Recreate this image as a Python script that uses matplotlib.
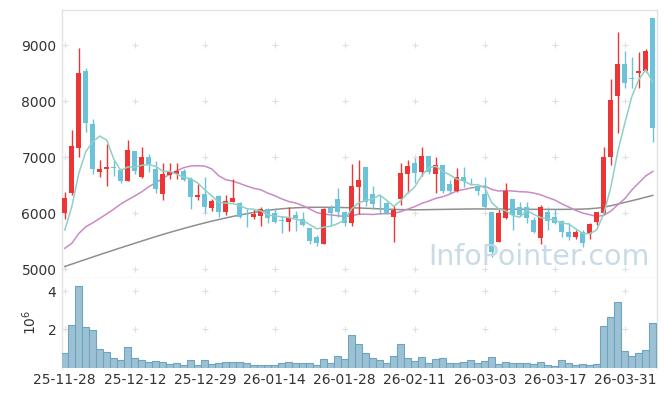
import matplotlib
matplotlib.use("Agg")
import matplotlib.pyplot as plt
import numpy as np

opens = [6000, 6360, 7170, 8540, 7600, 6740, 6800, 6830, 6780, 6580,
         7110, 6640, 7000, 6785, 6340, 6690, 6700, 6750, 6610, 6290,
         6345, 6095, 6310, 6030, 6200, 6180, 5960, 5940, 5960, 6075,
         6010, 5870, 5850, 5970, 5895, 5735, 5580, 5460, 6100, 6250,
         6015, 5830, 6475, 6830, 6345, 6190, 6185, 5940, 6260, 6700,
         6890, 6745, 7020, 6700, 6860, 6520, 6405, 6645, 6545, 6495,
         6340, 6020, 5495, 5910, 6250, 6105, 6120, 5880, 5560, 6030,
         5930, 5870, 5660, 5585, 5660, 5625, 5850, 6000, 7010, 8100,
         8665, 8410, 8500, 8545, 9480]
highs = [6380, 7485, 8950, 8600, 7680, 6960, 7230, 6950, 6810, 7310,
         7115, 7180, 7060, 6930, 6890, 6890, 6890, 6800, 6655, 6520,
         6655, 6260, 6330, 6330, 6610, 6200, 6070, 6070, 6105, 6090,
         6090, 5960, 6120, 6045, 6030, 5745, 5615, 6090, 6150, 6460,
         6030, 6880, 6950, 6835, 6480, 6330, 6210, 6130, 6890, 6945,
         6990, 7190, 7025, 7010, 6865, 6595, 6805, 6820, 6625, 6505,
         6655, 6025, 6090, 6545, 6255, 6205, 6205, 5940, 6150, 6120,
         6070, 5880, 5820, 5700, 5700, 5835, 6030, 7190, 8390, 9240,
         8905, 8785, 8885, 8925, 9485]
lows = [5895, 6330, 7000, 7450, 6710, 6640, 6480, 6660, 6540, 6570,
        6700, 6625, 6740, 6360, 6230, 6610, 6610, 6580, 6070, 6240,
        6000, 6040, 5940, 5970, 6200, 5910, 5750, 5895, 5780, 5820,
        5830, 5645, 5690, 5690, 5780, 5450, 5420, 5455, 5780, 5940,
        5775, 5780, 5985, 6130, 6075, 5990, 5990, 5495, 6150, 6370,
        6550, 6670, 6700, 6360, 6360, 6360, 6385, 6475, 6505, 6330,
        6090, 5225, 5490, 5905, 5700, 5960, 5820, 5650, 5445, 5700,
        5810, 5575, 5525, 5540, 5405, 5545, 5800, 5990, 6865, 7430,
        8230, 8230, 8245, 8530, 7270]
closes = [6280, 7200, 8510, 7610, 6790, 6790, 6830, 6815, 6580, 7130,
          6760, 7000, 6875, 6430, 6700, 6735, 6750, 6595, 6300, 6325,
          6120, 6220, 6030, 6220, 6275, 5940, 5945, 5980, 6075, 5920,
          5850, 5860, 5920, 5915, 5790, 5510, 5475, 6075, 6000, 6025,
          5835, 6485, 6595, 6205, 6170, 6180, 6005, 6060, 6725, 6845,
          6725, 7020, 6745, 6860, 6400, 6400, 6645, 6580, 6535, 6400,
          6120, 5315, 6000, 6400, 5970, 5970, 5910, 5660, 6105, 5870,
          5835, 5660, 5580, 5665, 5465, 5805, 6020, 7010, 8020, 8660,
          8320, 8400, 8545, 8900, 7530]
volume_m = [0.75, 2.21, 4.26, 2.10, 1.95, 0.95, 0.80, 0.48, 0.38, 1.06,
            0.48, 0.38, 0.28, 0.33, 0.28, 0.17, 0.22, 0.12, 0.38, 0.12,
            0.38, 0.17, 0.22, 0.28, 0.28, 0.28, 0.22, 0.12, 0.12, 0.12,
            0.12, 0.22, 0.28, 0.22, 0.22, 0.22, 0.12, 0.43, 0.22, 0.59,
            0.43, 1.69, 1.22, 0.75, 0.48, 0.38, 0.22, 0.59, 1.22, 0.48,
            0.33, 0.54, 0.22, 0.43, 0.48, 0.22, 0.22, 0.28, 0.38, 0.22,
            0.33, 0.54, 0.17, 0.28, 0.22, 0.22, 0.22, 0.17, 0.28, 0.12,
            0.07, 0.38, 0.22, 0.12, 0.17, 0.12, 0.17, 2.16, 2.63, 3.41,
            0.85, 0.59, 0.75, 0.90, 2.31]
ma5 = [5702, 6118, 6714, 7100, 7278, 7380, 7306, 6967, 6761, 6829,
       6823, 6857, 6869, 6839, 6753, 6748, 6698, 6642, 6616, 6541,
       6418, 6312, 6199, 6183, 6173, 6137, 6082, 6072, 6043, 5972,
       5954, 5937, 5925, 5893, 5867, 5799, 5722, 5753, 5770, 5817,
       5882, 6084, 6188, 6229, 6258, 6327, 6231, 6124, 6228, 6363,
       6472, 6675, 6812, 6839, 6750, 6685, 6610, 6577, 6512, 6512,
       6456, 6190, 6074, 6047, 5961, 5931, 6050, 5982, 5923, 5903,
       5876, 5826, 5810, 5722, 5641, 5635, 5707, 5993, 6464, 7103,
       7606, 8082, 8389, 8565, 8339]
ma20 = [5375, 5465, 5640, 5760, 5830, 5910, 5990, 6075, 6165, 6240,
        6310, 6385, 6475, 6545, 6625, 6700, 6760, 6815, 6845, 6850,
        6842, 6793, 6669, 6600, 6574, 6532, 6487, 6446, 6420, 6360,
        6314, 6257, 6210, 6184, 6138, 6077, 6013, 5987, 5972, 5957,
        5943, 5956, 5985, 5984, 5979, 5991, 5994, 5998, 6030, 6076,
        6120, 6178, 6219, 6267, 6297, 6342, 6400, 6425, 6452, 6471,
        6485, 6427, 6397, 6407, 6397, 6386, 6381, 6361, 6330, 6282,
        6237, 6169, 6111, 6051, 6004, 5975, 5943, 5965, 6039, 6152,
        6262, 6416, 6544, 6669, 6747]
ma60 = [5050, 5093, 5136, 5178, 5220, 5262, 5303, 5344, 5385, 5425,
        5465, 5505, 5545, 5584, 5622, 5659, 5695, 5730, 5764, 5797,
        5829, 5860, 5889, 5917, 5944, 5969, 5993, 6015, 6035, 6053,
        6068, 6081, 6091, 6099, 6104, 6107, 6108, 6108, 6107, 6105,
        6102, 6099, 6095, 6090, 6085, 6080, 6075, 6070, 6066, 6064,
        6063, 6064, 6066, 6068, 6070, 6072, 6074, 6076, 6077, 6078,
        6078, 6077, 6076, 6075, 6074, 6073, 6072, 6071, 6071, 6070,
        6070, 6070, 6071, 6073, 6076, 6082, 6092, 6110, 6135, 6165,
        6195, 6225, 6255, 6288, 6320]
tick_labels = ["25-11-28", "25-12-12", "25-12-29", "26-01-14", "26-01-28",
               "26-02-11", "26-03-03", "26-03-17", "26-03-31"]
price_ticks = [5000, 6000, 7000, 8000, 9000]
vol_ticks = [2, 4]

UP = "#EE3535"
DOWN = "#6CC3D9"

fig = plt.figure(figsize=(6.65, 3.96), dpi=100)
ax = fig.add_axes([62/665, 1-278/396, (657-62)/665, (278-10)/396])
ax2 = fig.add_axes([62/665, 1-367.6/396, (657-62)/665, (367.6-278)/396], sharex=ax)

x = np.arange(len(closes))
o = np.array(opens, float); c = np.array(closes, float)
h = np.array(highs, float); l = np.array(lows, float)
up = c >= o
cols = np.where(up, UP, DOWN)

ax.vlines(x, l, h, colors=cols, linewidth=1.0, zorder=3)
bottoms = np.minimum(o, c)
heights = np.maximum(np.abs(c - o), 12)
ax.bar(x, heights, bottom=bottoms, width=0.72, color=cols, linewidth=0, zorder=4)

ax.plot(x, ma60, color="#8f8f8f", linewidth=1.1, zorder=2)
ax.plot(x, ma20, color="#c98bc4", linewidth=1.1, zorder=2)
ax.plot(x, ma5, color="#8fd0c5", linewidth=1.1, zorder=5)

ax2.bar(x, volume_m, width=1.0, color="#9cc1d3", edgecolor="#6fa3c2", linewidth=0.8, zorder=3)

xt = list(range(0, 85, 10))[:len(tick_labels)]
ax.set_xlim(-0.4, 84.6)
ax.set_ylim(4845, 9630)
ax2.set_ylim(0, 4.68)

ax.set_yticks(price_ticks)
ax.set_yticklabels([str(v) for v in price_ticks])
ax2.set_yticks(vol_ticks)
ax2.set_yticklabels([str(v) for v in vol_ticks])
ax2.set_xticks(xt)
ax2.set_xticklabels(tick_labels)
ax.tick_params(axis="x", labelbottom=False)

for a in (ax, ax2):
    a.tick_params(length=0, labelsize=10, labelcolor="#333333", pad=4)
    for s in a.spines.values():
        s.set_color("#e3e3e3")
        s.set_linewidth(1.0)
ax2.spines["bottom"].set_visible(False)
ax2.spines["top"].set_visible(False)

# grid crosses at tick intersections
gx, gy = np.meshgrid(xt, price_ticks)
ax.scatter(gx.ravel(), gy.ravel(), marker="+", s=16, color="#e0e0e0", linewidths=0.8, zorder=1)
gx2, gy2 = np.meshgrid(xt, vol_ticks)
ax2.scatter(gx2.ravel(), gy2.ravel(), marker="+", s=16, color="#e0e0e0", linewidths=0.8, zorder=1)

ax2.set_ylabel("$10^6$", fontsize=10, color="#333333", labelpad=6)

fig.text(539/665, 1-257/396, "InfoPointer.com", fontsize=20.5, color="#c3d7e4",
         ha="center", va="center", alpha=0.9, zorder=10)

fig.savefig("out.png", dpi=100)
